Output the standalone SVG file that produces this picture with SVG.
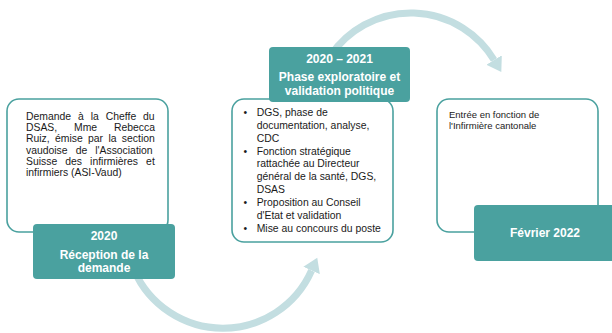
<svg xmlns="http://www.w3.org/2000/svg" width="612" height="333" viewBox="0 0 612 333">
  <defs>
    <style>
      .card { fill: #ffffff; stroke: #4aa19f; stroke-width: 1.6; }
      .tag { fill: #4aa19f; }
      .tagtxt { font-family: "Liberation Sans", Arial, sans-serif; font-weight: bold; font-size: 12px; fill: #ffffff; text-anchor: middle; }
      .body { font-family: "Liberation Sans", Arial, sans-serif; font-size: 10.4px; fill: #1a1a1a; }
      .small { font-family: "Liberation Sans", Arial, sans-serif; font-size: 9.5px; fill: #1a1a1a; }
      .arc { fill: none; stroke: #c3dee1; stroke-width: 7; }
    </style>
    <marker id="head" markerUnits="userSpaceOnUse" markerWidth="16" markerHeight="20" refX="0" refY="10" orient="auto">
      <path d="M0,1 L14,10 L0,19 Z" fill="#c3dee1"/>
    </marker>
  </defs>
  <rect width="612" height="333" fill="#ffffff"/>

  <g id="connectors">
    <path class="arc" d="M134,270 A97,97 0 0 0 311.6,270.5" marker-end="url(#head)"/>
    <path class="arc" d="M331,55 A97,97 0 0 1 494.1,60" marker-end="url(#head)"/>
  </g>

  <g id="step1">
    <rect class="card" x="7" y="99" width="161" height="133" rx="12"/>
    <text class="body" x="26" y="120" word-spacing="4.05">Demande à la Cheffe du</text>
    <text class="body" x="26" y="131.2" word-spacing="13.95">DSAS, Mme Rebecca</text>
    <text class="body" x="26" y="142.4" word-spacing="2.45">Ruiz, émise par la section</text>
    <text class="body" x="26" y="153.6" word-spacing="5.15">vaudoise de l'Association</text>
    <text class="body" x="26" y="164.8" word-spacing="5.2">Suisse des infirmières et</text>
    <text class="body" x="26" y="176">infirmiers (ASI-Vaud)</text>
    <rect class="tag" x="33" y="224" width="142" height="55" rx="4"/>
    <text class="tagtxt" x="104" y="240">2020</text>
    <text class="tagtxt" x="104" y="259">Réception de la</text>
    <text class="tagtxt" x="104" y="271.5">demande</text>
  </g>

  <g id="step2">
    <rect class="card" x="232" y="99" width="161" height="143" rx="12"/>
    <g class="body">
      <text x="243.5" y="116">•</text>
      <text x="256.7" y="116">DGS, phase de</text>
      <text x="256.7" y="128.9">documentation, analyse,</text>
      <text x="256.7" y="141.7">CDC</text>
      <text x="243.5" y="154.6">•</text>
      <text x="256.7" y="154.6">Fonction stratégique</text>
      <text x="256.7" y="167.4">rattachée au Directeur</text>
      <text x="256.7" y="180.3">général de la santé, DGS,</text>
      <text x="256.7" y="193.2">DSAS</text>
      <text x="243.5" y="206">•</text>
      <text x="256.7" y="206">Proposition au Conseil</text>
      <text x="256.7" y="218.9">d'Etat et validation</text>
      <text x="243.5" y="231.7">•</text>
      <text x="256.7" y="231.7">Mise au concours du poste</text>
    </g>
    <rect class="tag" x="269" y="47" width="141" height="55" rx="4"/>
    <text class="tagtxt" x="339.5" y="63">2020 – 2021</text>
    <text class="tagtxt" x="339.5" y="80.5">Phase exploratoire et</text>
    <text class="tagtxt" x="339.5" y="95">validation politique</text>
  </g>

  <g id="step3">
    <rect class="card" x="437" y="99" width="161" height="133" rx="12"/>
    <text class="small" x="449" y="118.3">Entrée en fonction de</text>
    <text class="small" x="449" y="129.3">l'Infirmière cantonale</text>
    <rect class="tag" x="474" y="205" width="142" height="56" rx="4"/>
    <text class="tagtxt" x="545" y="237">Février 2022</text>
  </g>
</svg>
